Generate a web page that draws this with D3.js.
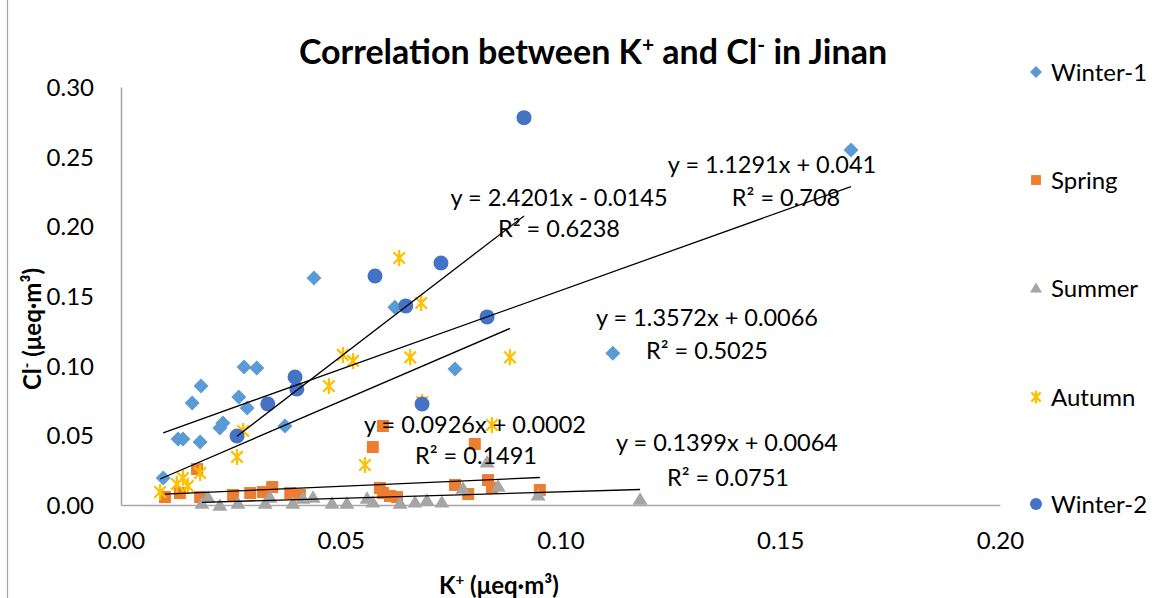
<!DOCTYPE html>
<html>
<head>
<meta charset="utf-8">
<script src="https://cdn.jsdelivr.net/npm/d3@7"></script>
<style>
  html, body { margin: 0; padding: 0; background: #fff; }
  svg { display: block; font-family: Lato, "Open Sans", sans-serif; }
</style>
</head>
<body>
<svg id="chart" width="1176" height="598"></svg>
<script>
// K+ versus Cl- concentrations (µeq·m³) by season, Jinan
const winter1K  = [0.0096, 0.0130, 0.0141, 0.0162, 0.0182, 0.0180, 0.0225, 0.0232, 0.0268, 0.0287, 0.0280, 0.0309, 0.0373, 0.0439, 0.0623, 0.0760, 0.1119, 0.1661];
const winter1Cl = [0.0194, 0.0474, 0.0474, 0.0732, 0.0854, 0.0452, 0.0553, 0.0589, 0.0775, 0.0696, 0.0991, 0.0983, 0.0567, 0.1630, 0.1420, 0.0976, 0.1090, 0.2548];

const springK  = [0.0100, 0.0134, 0.0173, 0.0180, 0.0255, 0.0294, 0.0323, 0.0344, 0.0385, 0.0407, 0.0573, 0.0596, 0.0589, 0.0596, 0.0612, 0.0628, 0.0760, 0.0790, 0.0805, 0.0835, 0.0844, 0.0953];
const springCl = [0.0057, 0.0086, 0.0258, 0.0057, 0.0072, 0.0086, 0.0093, 0.0129, 0.0086, 0.0072, 0.0416, 0.0567, 0.0122, 0.0086, 0.0065, 0.0057, 0.0144, 0.0079, 0.0438, 0.0179, 0.0122, 0.0108];

const summerK  = [0.0184, 0.0198, 0.0225, 0.0266, 0.0328, 0.0339, 0.0391, 0.0414, 0.0437, 0.0480, 0.0514, 0.0560, 0.0573, 0.0635, 0.0669, 0.0696, 0.0730, 0.0778, 0.0833, 0.0858, 0.0949, 0.1181];
const summerCl = [0.0014, 0.0057, 0.0000, 0.0014, 0.0014, 0.0057, 0.0014, 0.0050, 0.0057, 0.0014, 0.0014, 0.0050, 0.0022, 0.0014, 0.0022, 0.0036, 0.0022, 0.0122, 0.0310, 0.0136, 0.0072, 0.0043];

const autumnK  = [0.0089, 0.0127, 0.0141, 0.0152, 0.0180, 0.0264, 0.0278, 0.0473, 0.0505, 0.0528, 0.0555, 0.0633, 0.0658, 0.0683, 0.0685, 0.0844, 0.0885];
const autumnCl = [0.0093, 0.0151, 0.0194, 0.0136, 0.0230, 0.0345, 0.0531, 0.0854, 0.1077, 0.1034, 0.0287, 0.1773, 0.1060, 0.1450, 0.0739, 0.0574, 0.1060];

const winter2K  = [0.0264, 0.0334, 0.0396, 0.0400, 0.0578, 0.0648, 0.0685, 0.0728, 0.0833, 0.0917];
const winter2Cl = [0.0495, 0.0725, 0.0919, 0.0833, 0.1644, 0.1429, 0.0725, 0.1737, 0.1350, 0.2780];

// Linear trendlines: slope, intercept, R²
const seriesNames  = ["Winter-1", "Spring", "Summer", "Autumn", "Winter-2"];
const trendSlope     = [1.1291, 0.1399, 0.0926, 1.3572, 2.4201];
const trendIntercept = [0.041, 0.0064, 0.0002, 0.0066, -0.0145];
const trendR2        = [0.708, 0.0751, 0.1491, 0.5025, 0.6238];

const xTicks = [0, 0.05, 0.10, 0.15, 0.20];
const yTicks = [0, 0.05, 0.10, 0.15, 0.20, 0.25, 0.30];

const seriesK  = [winter1K, springK, summerK, autumnK, winter2K];
const seriesCl = [winter1Cl, springCl, summerCl, autumnCl, winter2Cl];
const colors   = ["#5B9BD5", "#ED7D31", "#A5A5A5", "#FFC000", "#4472C4"];
const shapes   = ["diamond", "square", "triangle", "star", "circle"];

// Where each trendline equation sits (equation centre, R² centre)
const labelPos = [
  {ex: 772, ey: 165, rx: 786, ry: 198},
  {ex: 727, ey: 443, rx: 728, ry: 478},
  {ex: 475, ey: 425, rx: 476, ry: 456},
  {ex: 707, ey: 318, rx: 707, ry: 351},
  {ex: 559, ey: 198, rx: 559, ry: 229}
];

const svg = d3.select("#chart");
const x = d3.scaleLinear().domain([0, 0.2]).range([121, 1000]);
const y = d3.scaleLinear().domain([0, 0.3]).range([505, 87]);

// outer chart frame edge
svg.append("line").attr("x1", 7.5).attr("x2", 7.5).attr("y1", 0).attr("y2", 598)
  .attr("stroke", "#a6a6a6").attr("stroke-width", 1.2);

// axes
const xAxis = svg.append("g").attr("transform", `translate(0,${y(0)})`)
  .call(d3.axisBottom(x).tickValues(xTicks).tickSize(0).tickPadding(27).tickFormat(d3.format(".2f")));
const yAxis = svg.append("g").attr("transform", `translate(${x(0)},0)`)
  .call(d3.axisLeft(y).tickValues(yTicks).tickSize(0).tickPadding(27).tickFormat(d3.format(".2f")));
[xAxis, yAxis].forEach(g => {
  g.select(".domain").attr("stroke", "#a6a6a6").attr("stroke-width", 1.5);
  g.selectAll("text").attr("font-family", "Lato, sans-serif").attr("font-size", 24).attr("fill", "#000");
});
yAxis.selectAll("text").attr("dy", "0.36em");

// marker shapes
function markerPath(shape, s) {
  switch (shape) {
    case "diamond": return `M0,${-s}L${s},0L0,${s}L${-s},0Z`;
    case "square": { const h = s * 0.82; return `M${-h},${-h}H${h}V${h}H${-h}Z`; }
    case "triangle": return `M0,${-s * 0.9}L${s},${s * 0.75}L${-s},${s * 0.75}Z`;
    case "star": {
      const d = s * 0.72;
      return `M0,${-s}V${s}M${-d},${-d}L${d},${d}M${-d},${d}L${d},${-d}`;
    }
    case "circle": return `M${s},0A${s},${s} 0 1,1 ${-s},0A${s},${s} 0 1,1 ${s},0Z`;
  }
}
function drawMarker(g, shape, color, s) {
  const p = g.append("path").attr("d", markerPath(shape, s));
  if (shape === "star") p.attr("fill", "none").attr("stroke", color).attr("stroke-width", 2.3);
  else p.attr("fill", color);
}

// data points
seriesNames.forEach((name, i) => {
  const g = svg.append("g").attr("class", "series");
  const pts = seriesK[i].map((k, j) => [k, seriesCl[i][j]]);
  g.selectAll("g.pt").data(pts).join("g").attr("class", "pt")
    .attr("transform", d => `translate(${x(d[0])},${y(d[1])})`)
    .each(function () { drawMarker(d3.select(this), shapes[i], colors[i], shapes[i] === "square" ? 7.3 : (shapes[i] === "star" ? 8 : 7.5)); });
});

// trendlines
const fmt = v => Math.abs(v).toFixed(4).replace(/0+$/, "").replace(/\.$/, "");
seriesNames.forEach((name, i) => {
  const [x0, x1] = d3.extent(seriesK[i]);
  const f = xv => trendSlope[i] * xv + trendIntercept[i];
  svg.append("line")
    .attr("x1", x(x0)).attr("y1", y(f(x0)))
    .attr("x2", x(x1)).attr("y2", y(f(x1)))
    .attr("stroke", "#000").attr("stroke-width", 1.3);
});
seriesNames.forEach((name, i) => {
  const sign = trendIntercept[i] < 0 ? "-" : "+";
  const eq = `y = ${fmt(trendSlope[i])}x ${sign} ${fmt(trendIntercept[i])}`;
  const p = labelPos[i];
  svg.append("text").attr("x", p.ex).attr("y", p.ey).attr("dy", "0.35em")
    .attr("text-anchor", "middle").attr("font-size", 23.5).text(eq);
  svg.append("text").attr("x", p.rx).attr("y", p.ry).attr("dy", "0.35em")
    .attr("text-anchor", "middle").attr("font-size", 23.5).text(`R² = ${fmt(trendR2[i])}`);
});

// title
const title = svg.append("text").attr("x", 593).attr("y", 64)
  .attr("text-anchor", "middle").attr("font-size", 34).attr("font-weight", "bold");
title.append("tspan").text("Correlation between K");
title.append("tspan").attr("font-size", 21).attr("dy", -12).text("+");
title.append("tspan").attr("dy", 12).text(" and Cl");
title.append("tspan").attr("font-size", 21).attr("dy", -12).text("-");
title.append("tspan").attr("dy", 12).text(" in Jinan");

// axis titles
const xt = svg.append("text").attr("x", 499).attr("y", 594)
  .attr("text-anchor", "middle").attr("font-size", 24).attr("font-weight", "bold");
xt.append("tspan").text("K");
xt.append("tspan").attr("font-size", 15).attr("dy", -9).text("+");
xt.append("tspan").attr("dy", 9).text(" (μeq·m³)");

const yt = svg.append("text").attr("transform", "translate(41,329) rotate(-90)")
  .attr("text-anchor", "middle").attr("font-size", 24).attr("font-weight", "bold");
yt.append("tspan").text("Cl");
yt.append("tspan").attr("font-size", 15).attr("dy", -9).text("-");
yt.append("tspan").attr("dy", 9).text(" (μeq·m³)");

// legend
const legendY = [72, 180, 288, 397, 504];
seriesNames.forEach((name, i) => {
  const g = svg.append("g").attr("transform", `translate(1036,${legendY[i]})`);
  drawMarker(g, shapes[i], colors[i], shapes[i] === "star" ? 6.5 : 6);
  g.append("text").attr("x", 15).attr("dy", "0.36em").attr("font-size", 24).text(name);
});
</script>
</body>
</html>
